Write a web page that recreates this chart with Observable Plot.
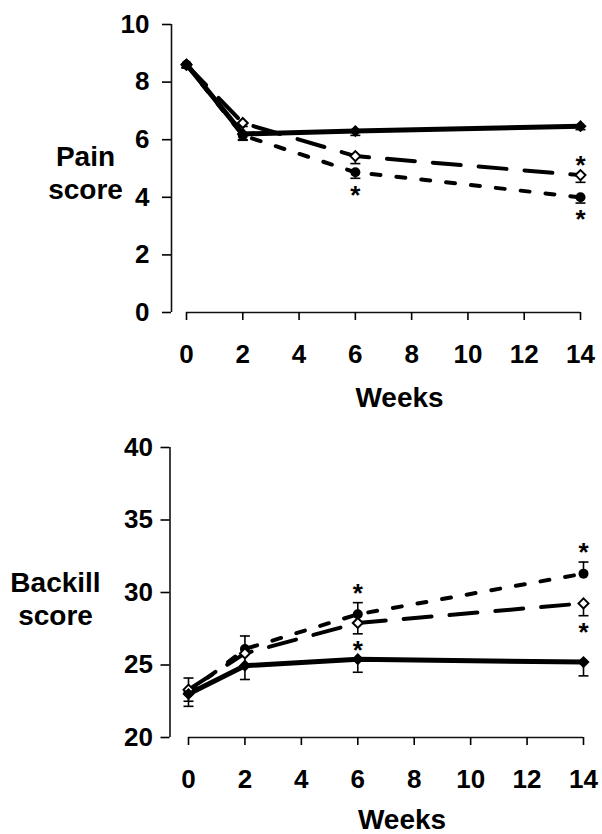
<!DOCTYPE html>
<html><head><meta charset="utf-8">
<script src="https://cdn.jsdelivr.net/npm/d3@7"></script>
<script src="https://cdn.jsdelivr.net/npm/@observablehq/plot@0.6"></script>
<style>
html,body{margin:0;padding:0;background:#fff;overflow:hidden;}
#chart{width:602px;height:834px;position:relative;overflow:hidden;}
#chart svg{display:block;}
</style></head><body><div id="chart"></div>
<script>
// ---- data ----
const weeks = [0, 2, 6, 14];
const xTicks = [0, 2, 4, 6, 8, 10, 12, 14];
const painTicks = [0, 2, 4, 6, 8, 10];
const backillTicks = [20, 25, 30, 35, 40];

const painSolid = [8.62, 6.2, 6.3, 6.47];
const painSolidErr = [0.12, 0.22, 0.15, 0.12];
const painDiamond = [8.6, 6.58, 5.43, 4.77];
const painDiamondErr = [0.1, 0.12, 0.26, 0.25];
const painCircle = [8.6, 6.15, 4.87, 4.0];
const painCircleErr = [0.1, 0.15, 0.21, 0.2];
// direction of the drawn (one-sided) error bar: solid, diamond, circle
const painErrDir = [-1, -1, -1];
const painStarSeries = ["circle", "diamond", "circle"];
const painStarWeeks = [6, 14, 14];
const painStarSides = ["below", "above", "below"];

const backSolid = [23.0, 24.95, 25.4, 25.2];
const backSolidErr = [0.85, 0.95, 0.9, 0.95];
const backDiamond = [23.3, 25.8, 27.9, 29.25];
const backDiamondErr = [0.8, 0.9, 0.75, 0.85];
const backCircle = [23.1, 26.1, 28.5, 31.3];
const backCircleErr = [1.0, 0.9, 0.8, 0.8];
const backErrDir = [-1, -1, 1];
const backStarSeries = ["circle", "diamond", "circle", "diamond"];
const backStarWeeks = [6, 6, 14, 14];
const backStarSides = ["above", "below", "above", "below"];

// ---- helpers ----
const rows = (vals, errs, dir, series) => weeks.map((w, i) => ({week: w, value: vals[i], end: vals[i] + dir * errs[i], series}));
const capSymbol = {draw(ctx, size) { const w = Math.sqrt(size / Math.PI); ctx.moveTo(-w, 0); ctx.lineTo(w, 0); }};

function panel(o) {
  const solid = rows(o.solid, o.solidErr, o.dir[0], "solid");
  const diamond = rows(o.diamond, o.diamondErr, o.dir[1], "diamond");
  const circle = rows(o.circle, o.circleErr, o.dir[2], "circle");
  const all = [...circle, ...diamond, ...solid];
  const lookup = {solid, diamond, circle};
  const stars = o.starSeries.map((s, i) => {
    const r = lookup[s].find(d => d.week === o.starWeeks[i]);
    const side = o.starSides[i];
    const y = side === "above" ? Math.max(r.value, r.end) : Math.min(r.value, r.end);
    return {week: r.week, y, side};
  });
  const yMin = d3.min(o.yTicks);
  return Plot.plot({
    width: 602, height: o.height,
    marginTop: o.mt, marginBottom: o.mb, marginLeft: o.ml, marginRight: o.mr,
    x: {domain: d3.extent(xTicks), axis: null},
    y: {domain: d3.extent(o.yTicks), axis: null},
    style: {fontFamily: "'Liberation Sans', Arial, sans-serif", fontWeight: "bold", fontSize: "26px", color: "#000", background: "#fff"},
    marks: [
      Plot.ruleX([d3.min(xTicks)], {dx: o.axisDx, strokeWidth: 1.6, stroke: "#111"}),
      Plot.ruleY([yMin], {strokeWidth: 1.6, stroke: "#111"}),
      Plot.axisY(o.yTicks, {tickSize: 9, tickPadding: o.yPad, dx: o.axisDx, strokeWidth: 1.6, fontSize: 26, label: null}),
      Plot.axisX(xTicks, {tickSize: 8, tickPadding: 24, strokeWidth: 1.6, fontSize: 26, label: null}),
      // error bars (one-sided)
      Plot.ruleX(all, {x: "week", y1: "value", y2: "end", strokeWidth: 1.6, stroke: "#000"}),
      Plot.dot(all, {x: "week", y: "end", symbol: capSymbol, r: 5, stroke: "#000", fill: "none", strokeWidth: 1.6}),
      // lines
      Plot.line(circle, {x: "week", y: "value", stroke: "#000", strokeWidth: 4, strokeDasharray: "9,16"}),
      Plot.line(diamond, {x: "week", y: "value", stroke: "#000", strokeWidth: 4, strokeDasharray: "28,18"}),
      Plot.line(solid, {x: "week", y: "value", stroke: "#000", strokeWidth: 5}),
      // markers
      Plot.dot(circle, {x: "week", y: "value", r: 5, fill: "#000"}),
      Plot.dot(diamond, {x: "week", y: "value", symbol: "diamond2", r: 4.5, fill: "#fff", stroke: "#000", strokeWidth: 2}),
      Plot.dot(solid, {x: "week", y: "value", symbol: "diamond2", r: 5.5, fill: "#000"}),
      // significance stars
      Plot.text(stars.filter(d => d.side === "above"), {x: "week", y: "y", text: () => "*", fontSize: 26, dy: -9}),
      Plot.text(stars.filter(d => d.side === "below"), {x: "week", y: "y", text: () => "*", fontSize: 26, dy: 17}),
      // titles
      Plot.text([o.xLabel], {text: d => d, frameAnchor: "bottom", lineAnchor: "middle", dy: o.xLabelDy, dx: 16, fontSize: 28}),
      Plot.text([o.yLabel], {text: d => d, frameAnchor: "left", lineAnchor: "middle", dx: o.yLabelDx, dy: o.yLabelDy, lineHeight: 1.18, textAnchor: "middle", fontSize: 28})
    ]
  });
}

const chart = document.getElementById("chart");
chart.append(panel({
  height: 420, mt: 24, mb: 108, ml: 186, mr: 22,
  yTicks: painTicks, solid: painSolid, solidErr: painSolidErr,
  diamond: painDiamond, diamondErr: painDiamondErr, circle: painCircle, circleErr: painCircleErr, dir: painErrDir,
  starSeries: painStarSeries, starWeeks: painStarWeeks, starSides: painStarSides,
  axisDx: -15, yPad: 13, xLabel: "Weeks", xLabelDy: 86, yLabel: "Pain\nscore", yLabelDx: -101, yLabelDy: 3.5
}));
chart.append(panel({
  height: 414, mt: 27, mb: 97, ml: 188, mr: 19,
  yTicks: backillTicks, solid: backSolid, solidErr: backSolidErr,
  diamond: backDiamond, diamondErr: backDiamondErr, circle: backCircle, circleErr: backCircleErr, dir: backErrDir,
  starSeries: backStarSeries, starWeeks: backStarWeeks, starSides: backStarSides,
  axisDx: -18.5, yPad: 8, xLabel: "Weeks", xLabelDy: 83, yLabel: "Backill\nscore", yLabelDx: -133, yLabelDy: 5.5
}));
</script></body></html>
